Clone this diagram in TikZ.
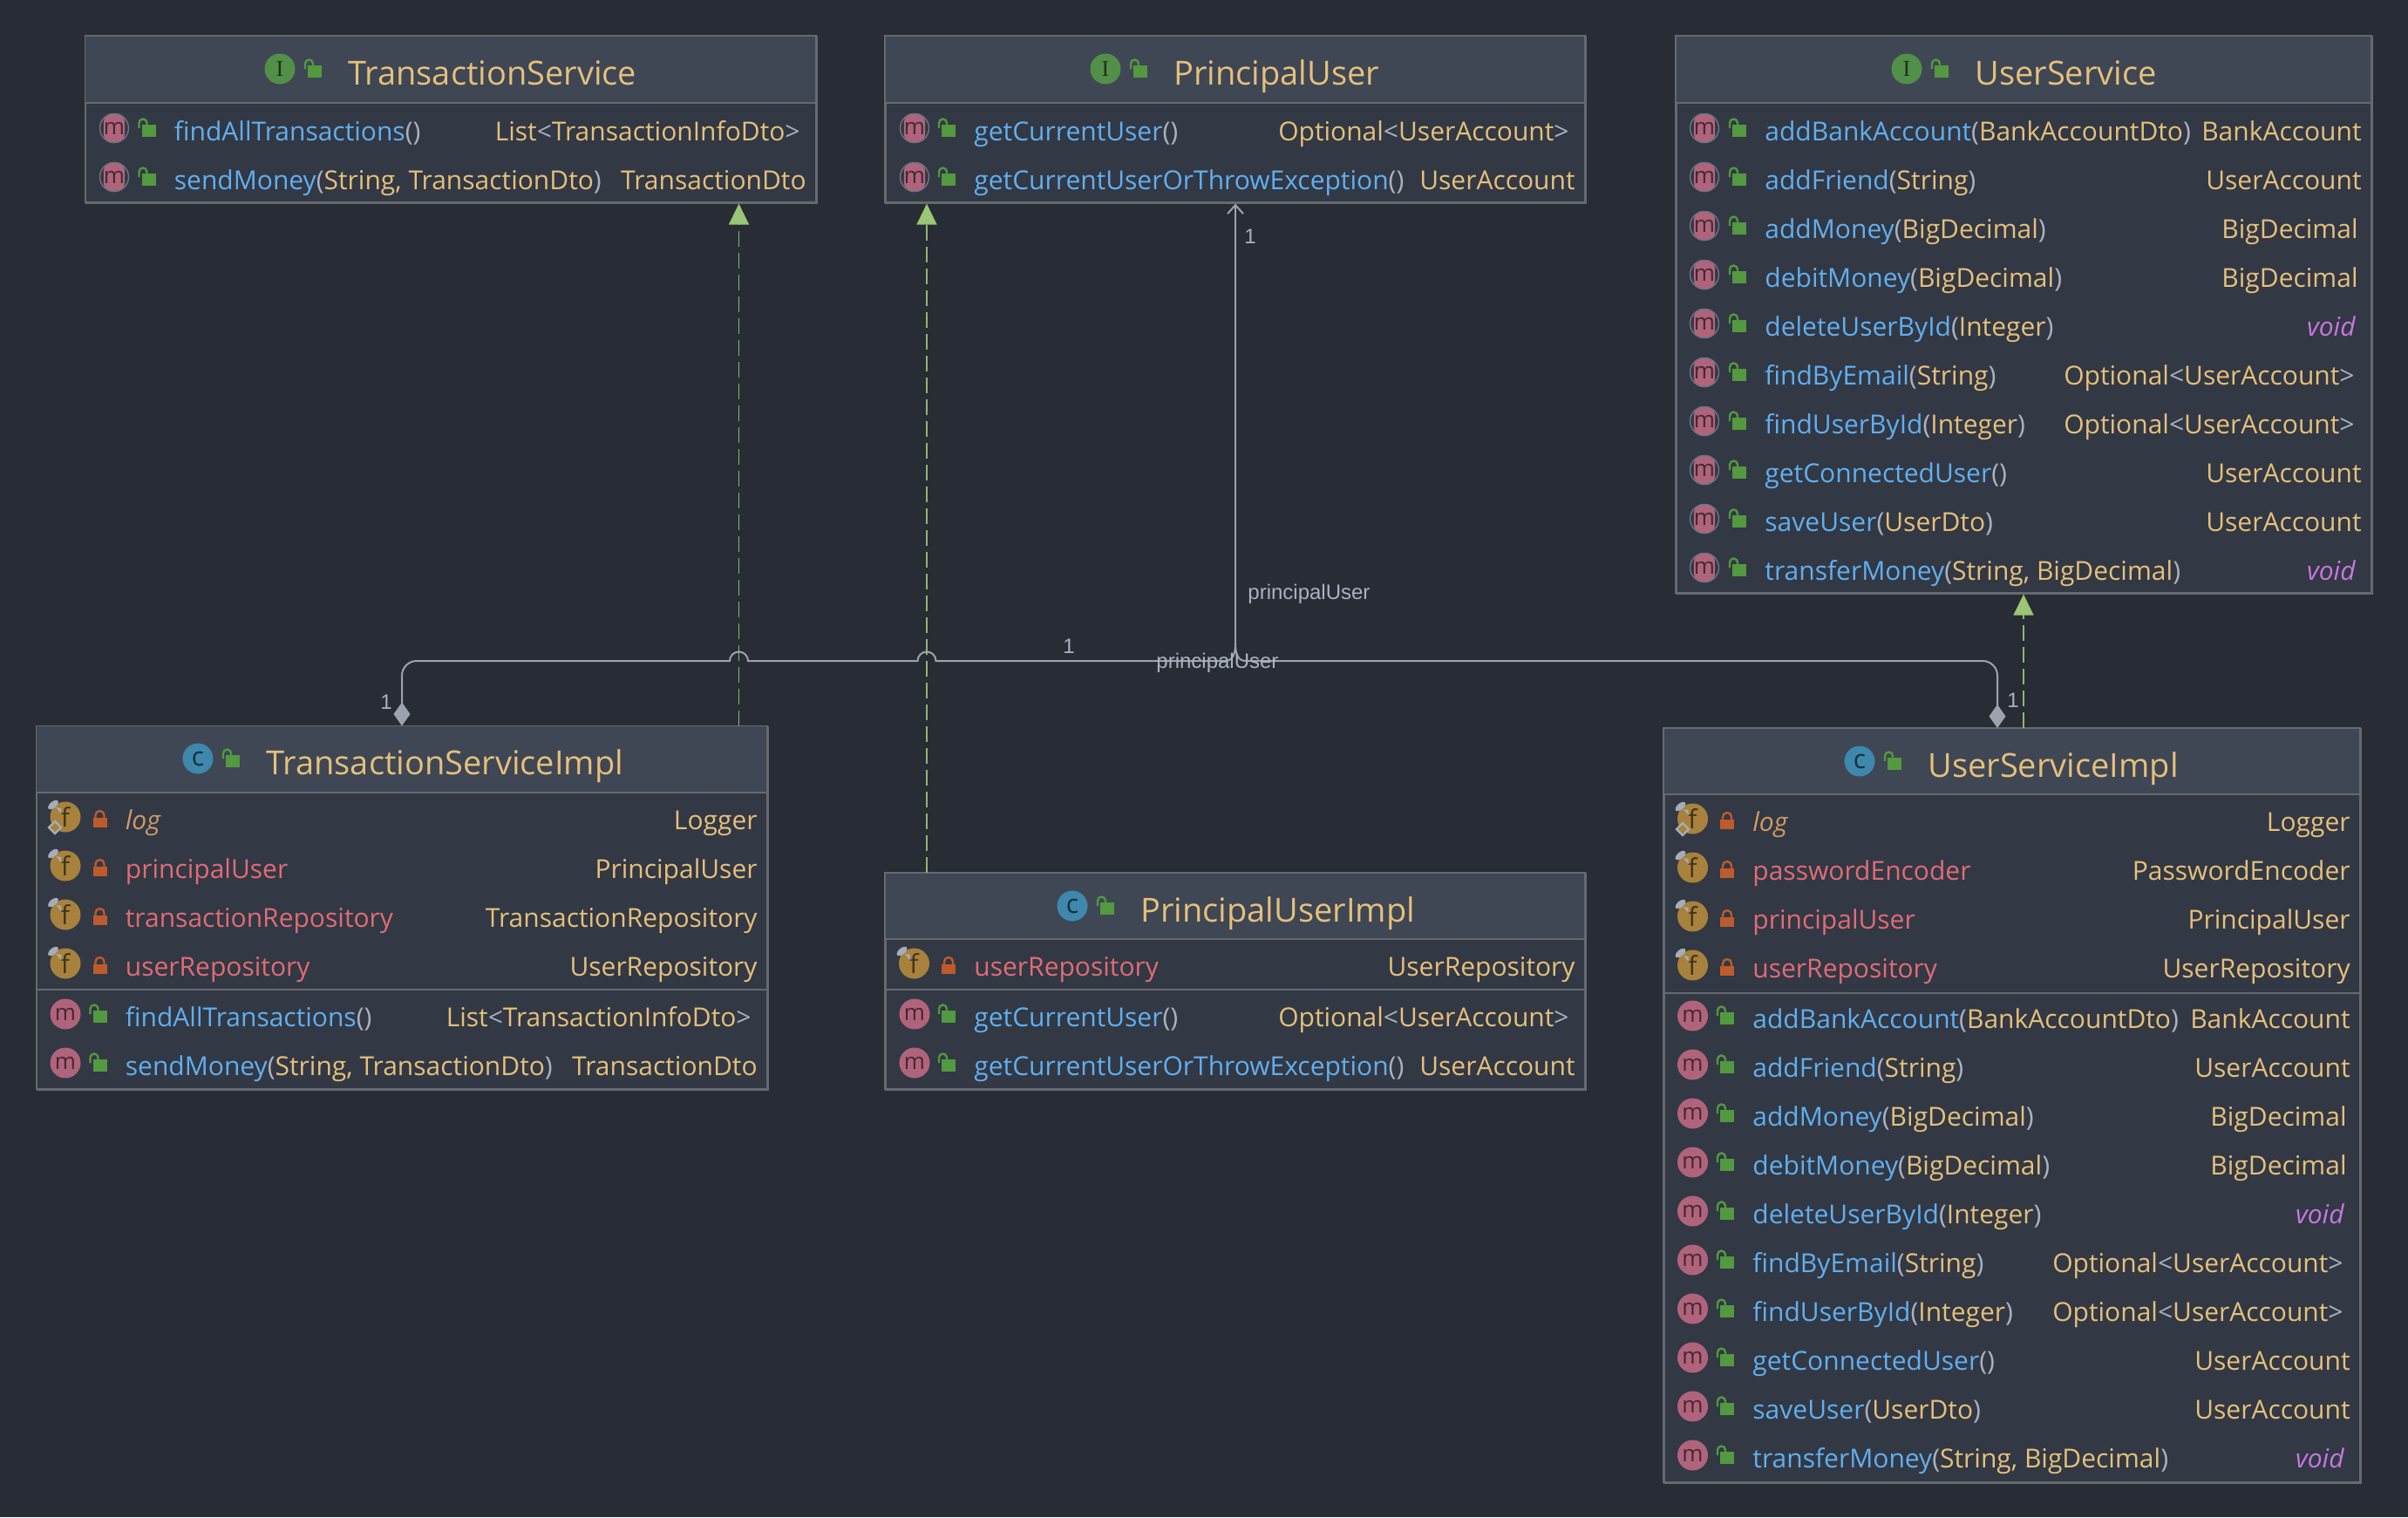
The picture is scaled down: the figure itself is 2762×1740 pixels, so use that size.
\documentclass[tikz,border=0pt]{standalone}
\usepackage{fontspec}
\usetikzlibrary{arrows.meta}
\setmainfont{Open Sans}
\newfontfamily\labelfont{Liberation Sans}
\newfontfamily\iconserif{Liberation Serif}
\definecolor{bgdark}{HTML}{282C34}
\definecolor{bodyfill}{HTML}{323844}
\definecolor{headfill}{HTML}{3F4654}
\definecolor{borderline}{HTML}{666A70}
\definecolor{yellowtext}{HTML}{E5C07B}
\definecolor{bluetext}{HTML}{61AFEF}
\definecolor{redtext}{HTML}{E06C75}
\definecolor{orangetext}{HTML}{D19A66}
\definecolor{greytext}{HTML}{ABB2BF}
\definecolor{purpletext}{HTML}{C678DD}
\definecolor{methodpink}{HTML}{B0647C}
\definecolor{fieldbrown}{HTML}{A8823C}
\definecolor{classblue}{HTML}{3E88AD}
\definecolor{ifacegreen}{HTML}{52904A}
\definecolor{lockgreen}{HTML}{52993F}
\definecolor{lockred}{HTML}{BD5B2C}
\definecolor{pingrey}{HTML}{A5ADB8}
\definecolor{ringgrey}{HTML}{6E7684}
\definecolor{implgreen}{HTML}{8FB573}
\definecolor{tipgreen}{HTML}{9AC675}
\definecolor{assocgrey}{HTML}{9DA3AE}
\tikzset{
	classbox/.style={draw=borderline, line width=0.8pt, inner sep=0pt, anchor=north west},
	rowtext/.style={text=yellowtext, inner sep=0pt, font=\fontsize{15}{18}\selectfont},
	titletext/.style={text=yellowtext, inner sep=0pt, anchor=base west, font=\fontsize{19}{23}\selectfont},
	edgelabel/.style={text=greytext, inner sep=0pt, font=\labelfont\fontsize{12}{14}\selectfont},
	iconbase/.style={circle, inner sep=0pt, minimum size=17.5pt, font=\fontsize{15}{17}\selectfont},
	methodicon/.style={iconbase, fill=methodpink, text=black!60!methodpink, font=\fontsize{13}{15}\selectfont},
	fieldicon/.style={iconbase, fill=fieldbrown, text=black!60!fieldbrown},
	classicon/.style={iconbase, fill=classblue, text=black!65!classblue},
	ifaceicon/.style={iconbase, fill=ifacegreen, text=black!65!ifacegreen, font=\iconserif\fontsize{13}{15}\selectfont},
	absicon/.style={rectangle, rounded corners=5pt, inner sep=0pt, minimum width=10.5pt, minimum height=17pt, fill=methodpink, text=black!60!methodpink, font=\fontsize{13}{15}\selectfont},
	implarrow/.style={draw=implgreen, line width=0.8pt, dash pattern=on 9pt off 3.5pt, -{Triangle[length=12pt,width=11.5pt,fill=tipgreen,color=tipgreen]}},
	assocline/.style={draw=assocgrey, line width=1pt},
}
\newcommand{\pg}[1]{{\color{greytext}#1}}
\newcommand{\mtext}[2]{{\color{bluetext}#1}\pg{(}#2\pg{)}}
\newcommand{\opttype}{Optional\pg{<}UserAccount\pg{>}}
\newcommand{\listtype}{List\pg{<}TransactionInfoDto\pg{>}}
\newcommand{\voidtype}{{\itshape\color{purpletext}void}}
\newcommand{\openlock}[2]{% lock of a public member
	\fill[lockgreen] ({#1},{#2}) rectangle ++(16,14);
	\draw[lockgreen, line width=1.2pt] ({#1-3},{#2+4}) -- ++(0,-6) arc [radius=4.5, start angle=180, end angle=360] -- ++(0,2);
}
\newcommand{\closedlock}[2]{% lock of a private field
	\fill[lockred] ({#1},{#2}) rectangle ++(16,11);
	\draw[lockred, line width=1.2pt] ({#1+3},{#2+1}) -- ++(0,-4) arc [radius=5, start angle=180, end angle=360] -- ++(0,4);
}
\newcommand{\classhead}[6]{% id, icon style, letter, icon x, icon y, title
	\node[#2] (#1icon) at (#4,#5) {#3};
	\openlock{#4+32}{#5-4}
	\node[titletext] (#1title) at ({#4+78},{#5+18}) {#6};
}
\newcommand{\classframe}[6]{% id, x1, y1, x2, y2, header bottom
	\node[classbox, fill=bodyfill, minimum width={(#4-#2)*0.5pt}, minimum height={(#5-#3)*0.5pt}] (#1) at (#2,#3) {};
	\fill[headfill] (#2,#3) rectangle (#4,#6);
	\draw[draw=borderline, line width=0.8pt] (#2,#3) rectangle (#4,#5);
	\draw[draw=borderline, line width=1pt] (#2,#6) -- (#4,#6);
}
\newcommand{\methodrow}[6]{% id, left, right, baseline, text, return inset + type
	\node[rowtext, anchor=base west] (#1txt) at ({#2+102},#4) {#5};
	\openlock{#2+65}{#4-18}
	\node[rowtext, anchor=base east] (#1ret) at ({#3-11},#4) {#6};
}
\newcommand{\fieldrow}[7]{% id, left, right, baseline, name, type, colour
	\node[fieldicon] (#1icon) at ({#2+33.5},{#4-14}) {f};
	\fill[pingrey] ({#2+19.5},{#4-28}) ellipse [x radius=7, y radius=3.6, rotate=40];
	\fill[pingrey] ({#2+23},{#4-25}) -- ({#2+28.5},{#4-24}) -- ({#2+28.5},{#4-18}) -- cycle;
	\closedlock{#2+65}{#4-13}
	\node[rowtext, anchor=base west, text=#7] (#1txt) at ({#2+102},#4) {#5};
	\node[rowtext, anchor=base east] (#1ret) at ({#3-11},#4) {#6};
}
\newcommand{\userMethods}{0/addBankAccount/BankAccountDto/BankAccount/0, 1/addFriend/String/UserAccount/0, 2/addMoney/BigDecimal/BigDecimal/4, 3/debitMoney/BigDecimal/BigDecimal/4, 4/deleteUserById/Integer/\voidtype/7, 5/findByEmail/String/\opttype/8, 6/findUserById/Integer/\opttype/8, 7/getConnectedUser//UserAccount/0, 8/saveUser/UserDto/UserAccount/0, 9/transferMoney/{String, BigDecimal}/\voidtype/7}
\begin{document}
\begin{tikzpicture}[x=0.5pt, y=-0.5pt]
	\fill[bgdark] (0,0) rectangle (2762,1740);
	\useasboundingbox (0,0) rectangle (2762,1740);

	\classframe{ts}{97.5}{41}{936}{232}{118} % Interface TransactionService
	\classhead{ts}{ifaceicon}{I}{321}{79}{TransactionService}
	\node[absicon] (tsm0icon) at (131,147) {m};
	\node[absicon] (tsm1icon) at (131,203) {m};
	\draw[ringgrey, line width=0.7pt] (131,147) circle [radius=16.5];
	\draw[ringgrey, line width=0.7pt] (131,203) circle [radius=16.5];
	\methodrow{tsm0}{97.5}{929}{161}{\mtext{findAllTransactions}{}}{\listtype}
	\methodrow{tsm1}{97.5}{936}{217}{\mtext{sendMoney}{String, TransactionDto}}{TransactionDto}

	\classframe{pu}{1015}{41}{1818}{232}{118} % Interface PrincipalUser
	\classhead{pu}{ifaceicon}{I}{1268}{79}{PrincipalUser}
	\node[absicon] (pum0icon) at (1049,147) {m};
	\node[absicon] (pum1icon) at (1049,203) {m};
	\draw[ringgrey, line width=0.7pt] (1049,147) circle [radius=16.5];
	\draw[ringgrey, line width=0.7pt] (1049,203) circle [radius=16.5];
	\methodrow{pum0}{1015}{1811}{161}{\mtext{getCurrentUser}{}}{\opttype}
	\methodrow{pum1}{1015}{1818}{217}{\mtext{getCurrentUserOrThrowException}{}}{UserAccount}

	\classframe{us}{1922}{41}{2720}{680}{118} % Interface UserService
	\classhead{us}{ifaceicon}{I}{2187}{79}{UserService}
	\foreach \i/\nm/\ar/\rt/\ins [evaluate=\i as \b using int(161+56*\i)] in \userMethods {
		\node[absicon] (usm\i icon) at (1955,\b-14) {m};
		\draw[ringgrey, line width=0.7pt] (1955,\b-14) circle [radius=16.5];
		\methodrow{usm\i}{1922}{2720-\ins}{\b}{\mtext{\nm}{\ar}}{\rt}
	}

	\classframe{tsi}{41.5}{832.5}{880}{1249}{909} % TransactionServiceImpl
	\classhead{tsi}{classicon}{c}{227}{870}{TransactionServiceImpl}
	\fieldrow{tsif0}{41.5}{880}{951}{\itshape log}{Logger}{orangetext}
	\fieldrow{tsif1}{41.5}{880}{1007}{principalUser}{PrincipalUser}{redtext}
	\fieldrow{tsif2}{41.5}{880}{1063}{transactionRepository}{TransactionRepository}{redtext}
	\fieldrow{tsif3}{41.5}{880}{1119}{userRepository}{UserRepository}{redtext}
	\draw[pingrey, line width=1.2pt, fill=fieldbrown] (63,942) -- (70,949) -- (63,956) -- (56,949) -- cycle; % static
	\draw[draw=borderline, line width=1pt] (41.5,1135) -- (880,1135);
	\node[methodicon] (tsim0icon) at (75,1163) {m};
	\node[methodicon] (tsim1icon) at (75,1219) {m};
	\methodrow{tsim0}{41.5}{873}{1177}{\mtext{findAllTransactions}{}}{\listtype}
	\methodrow{tsim1}{41.5}{880}{1233}{\mtext{sendMoney}{String, TransactionDto}}{TransactionDto}

	\classframe{pui}{1015}{1001}{1818}{1249}{1077} % PrincipalUserImpl
	\classhead{pui}{classicon}{c}{1230}{1039}{PrincipalUserImpl}
	\fieldrow{puif0}{1015}{1818}{1119}{userRepository}{UserRepository}{redtext}
	\draw[draw=borderline, line width=1pt] (1015,1135) -- (1818,1135);
	\node[methodicon] (puim0icon) at (1049,1163) {m};
	\node[methodicon] (puim1icon) at (1049,1219) {m};
	\methodrow{puim0}{1015}{1811}{1177}{\mtext{getCurrentUser}{}}{\opttype}
	\methodrow{puim1}{1015}{1818}{1233}{\mtext{getCurrentUserOrThrowException}{}}{UserAccount}

	\classframe{usi}{1908}{835}{2707}{1700}{911} % UserServiceImpl
	\classhead{usi}{classicon}{c}{2133}{873}{UserServiceImpl}
	\fieldrow{usif0}{1908}{2707}{953}{\itshape log}{Logger}{orangetext}
	\fieldrow{usif1}{1908}{2707}{1009}{passwordEncoder}{PasswordEncoder}{redtext}
	\fieldrow{usif2}{1908}{2707}{1065}{principalUser}{PrincipalUser}{redtext}
	\fieldrow{usif3}{1908}{2707}{1121}{userRepository}{UserRepository}{redtext}
	\draw[pingrey, line width=1.2pt, fill=fieldbrown] (1930,944) -- (1937,951) -- (1930,958) -- (1923,951) -- cycle; % static
	\draw[draw=borderline, line width=1pt] (1908,1139) -- (2707,1139);
	\foreach \i/\nm/\ar/\rt/\ins [evaluate=\i as \b using int(1179+56*\i)] in \userMethods {
		\node[methodicon] (usim\i icon) at (1941.5,\b-14) {m};
		\methodrow{usim\i}{1908}{2707-\ins}{\b}{\mtext{\nm}{\ar}}{\rt}
	}

	% Arrows between the classes
	\coordinate (tsUp) at (847.5,758);
	\coordinate (puUp) at (1063,758);
	\coordinate (usUp) at (2321,758);
	\draw[implarrow] (tsi.north -| tsUp) -- (ts.south -| tsUp);
	\draw[implarrow] (pui.north -| puUp) -- (pu.south -| puUp);
	\draw[implarrow] (usi.north -| usUp) -- (us.south -| usUp);

	\coordinate (tsBus) at (461,758);
	\coordinate (usBus) at (2291,758);
	\coordinate (busTop) at (1417,738);
	\draw[assocline, {Diamond[length=13.5pt,width=9.5pt,color=assocgrey]}-] (tsi.north -| tsBus) -- ++(0,-57.5) arc [radius=17, start angle=180, end angle=270] -- (837,758) arc [radius=10.5, start angle=180, end angle=360] -- (1052.5,758) arc [radius=10.5, start angle=180, end angle=360] -- (1405,758) .. controls (1414,758) and (1417,750) .. (busTop);
	\draw[assocline, {Diamond[length=13.5pt,width=9.5pt,color=assocgrey]}-] (usi.north -| usBus) -- ++(0,-60) arc [radius=17, start angle=0, end angle=-90] -- (1429,758) .. controls (1420,758) and (1417,750) .. (busTop);
	\draw[assocline, -{Straight Barb[length=5pt,width=9pt]}] (busTop) -- (pu.south -| busTop);

	\node[edgelabel, anchor=center] (oneTop) at (1434,271) {1};
	\node[edgelabel, anchor=base west] (nameTop) at (1431,687) {principalUser};
	\node[edgelabel, anchor=center] (oneMid) at (1226,741) {1};
	\node[edgelabel, anchor=base west] (nameMid) at (1326,766) {principalUser};
	\node[edgelabel, anchor=center] (oneLeft) at (443,805) {1};
	\node[edgelabel, anchor=center] (oneRight) at (2309,803) {1};
\end{tikzpicture}
\end{document}
